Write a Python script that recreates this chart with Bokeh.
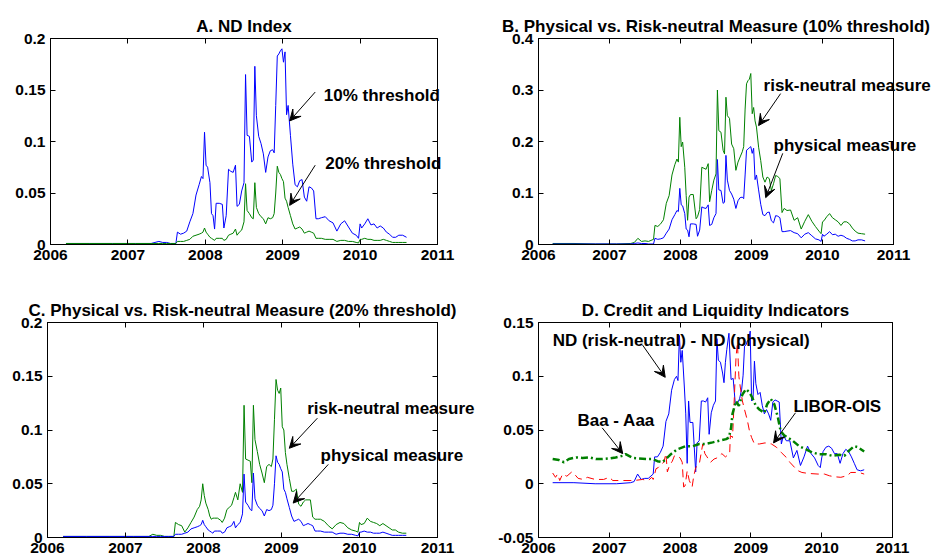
from bokeh.plotting import figure
from bokeh.models import (Range1d, FixedTicker, LinearAxis, NumeralTickFormatter,
                          Arrow, VeeHead)
from bokeh.core.properties import value
from bokeh.layouts import column, row
from bokeh.embed import file_html
from bokeh.resources import INLINE

FONT = "Liberation Sans"

# Observation dates (decimal years) shared by the four ND series
dates = [2006.20, 2006.50, 2006.80, 2007.10, 2007.30, 2007.35, 2007.40, 2007.45, 2007.50, 2007.55,
         2007.62, 2007.64, 2007.68, 2007.72, 2007.76, 2007.80, 2007.84, 2007.88, 2007.92, 2007.95,
         2007.97, 2007.99, 2008.01, 2008.03, 2008.06, 2008.08, 2008.10, 2008.12, 2008.14, 2008.18,
         2008.22, 2008.24, 2008.27, 2008.30, 2008.33, 2008.36, 2008.39, 2008.41, 2008.44, 2008.47,
         2008.50, 2008.52, 2008.54, 2008.57, 2008.60, 2008.62, 2008.64, 2008.66, 2008.69, 2008.72,
         2008.75, 2008.78, 2008.81, 2008.84, 2008.87, 2008.89, 2008.91, 2008.93, 2008.95, 2008.97,
         2008.99, 2009.01, 2009.03, 2009.05, 2009.07, 2009.10, 2009.13, 2009.16, 2009.19, 2009.22,
         2009.25, 2009.28, 2009.31, 2009.34, 2009.37, 2009.40, 2009.43, 2009.46, 2009.50, 2009.55,
         2009.60, 2009.65, 2009.70, 2009.75, 2009.80, 2009.85, 2009.90, 2009.95, 2009.98, 2010.00,
         2010.02, 2010.06, 2010.10, 2010.14, 2010.18, 2010.22, 2010.26, 2010.30, 2010.34, 2010.38,
         2010.42, 2010.46, 2010.50, 2010.55, 2010.60]

# ND index, physical measure, 10% threshold
phys10 = [0.001, 0.001, 0.001, 0.001, 0.001, 0.002, 0.003, 0.002, 0.002, 0.001,
          0.001, 0.012, 0.010, 0.011, 0.013, 0.022, 0.030, 0.048, 0.058, 0.066,
          0.064, 0.109, 0.077, 0.075, 0.060, 0.030, 0.028, 0.015, 0.040, 0.040,
          0.039, 0.016, 0.028, 0.073, 0.071, 0.070, 0.077, 0.037, 0.039, 0.052,
          0.060, 0.165, 0.106, 0.105, 0.080, 0.082, 0.173, 0.125, 0.105, 0.098,
          0.088, 0.070, 0.085, 0.091, 0.092, 0.089, 0.135, 0.183, 0.185, 0.188,
          0.190, 0.177, 0.187, 0.126, 0.135, 0.106, 0.078, 0.058, 0.056, 0.062,
          0.063, 0.046, 0.042, 0.056, 0.055, 0.052, 0.025, 0.025, 0.026, 0.027,
          0.023, 0.021, 0.013, 0.020, 0.023, 0.017, 0.011, 0.009, 0.006, 0.020,
          0.016, 0.020, 0.025, 0.019, 0.020, 0.016, 0.018, 0.016, 0.012, 0.010,
          0.007, 0.007, 0.009, 0.009, 0.007]

# ND index, physical measure, 20% threshold
phys20 = [0.001, 0.001, 0.001, 0.001, 0.001, 0.001, 0.001, 0.001, 0.001, 0.001,
          0.001, 0.003, 0.003, 0.003, 0.004, 0.005, 0.008, 0.009, 0.010, 0.011,
          0.012, 0.016, 0.012, 0.010, 0.007, 0.006, 0.005, 0.004, 0.006, 0.006,
          0.006, 0.004, 0.005, 0.009, 0.010, 0.011, 0.015, 0.009, 0.012, 0.014,
          0.022, 0.059, 0.033, 0.030, 0.026, 0.025, 0.060, 0.036, 0.030, 0.027,
          0.025, 0.020, 0.026, 0.025, 0.026, 0.030, 0.050, 0.076, 0.070, 0.068,
          0.064, 0.061, 0.045, 0.042, 0.036, 0.028, 0.020, 0.015, 0.016, 0.017,
          0.015, 0.011, 0.012, 0.013, 0.012, 0.011, 0.006, 0.006, 0.006, 0.005,
          0.005, 0.005, 0.003, 0.004, 0.004, 0.003, 0.003, 0.002, 0.0015, 0.005,
          0.005, 0.006, 0.005, 0.005, 0.004, 0.004, 0.004, 0.005, 0.004, 0.003,
          0.002, 0.002, 0.002, 0.002, 0.002]

# ND index, risk-neutral measure, 10% threshold
rn10 = [0.002, 0.002, 0.001, 0.001, 0.002, 0.004, 0.012, 0.006, 0.007, 0.006,
        0.010, 0.037, 0.035, 0.040, 0.048, 0.080, 0.095, 0.135, 0.155, 0.166,
        0.160, 0.247, 0.190, 0.199, 0.150, 0.095, 0.047, 0.092, 0.097, 0.097,
        0.050, 0.054, 0.068, 0.150, 0.148, 0.146, 0.157, 0.083, 0.105, 0.125,
        0.137, 0.300, 0.221, 0.218, 0.183, 0.176, 0.286, 0.250, 0.245, 0.195,
        0.186, 0.144, 0.160, 0.170, 0.180, 0.190, 0.263, 0.312, 0.318, 0.321,
        0.332, 0.254, 0.266, 0.240, 0.228, 0.189, 0.163, 0.131, 0.121, 0.131,
        0.128, 0.105, 0.118, 0.134, 0.132, 0.128, 0.062, 0.070, 0.066, 0.067,
        0.047, 0.052, 0.030, 0.045, 0.058, 0.045, 0.035, 0.026, 0.021, 0.044,
        0.046, 0.054, 0.060, 0.052, 0.048, 0.044, 0.037, 0.044, 0.044, 0.040,
        0.032, 0.026, 0.022, 0.021, 0.020]

# ND index, risk-neutral measure, 20% threshold
rn20 = [0.001, 0.001, 0.001, 0.001, 0.001, 0.003, 0.002, 0.002, 0.001, 0.001,
        0.001, 0.014, 0.012, 0.011, 0.005, 0.009, 0.014, 0.019, 0.026, 0.029,
        0.035, 0.050, 0.039, 0.032, 0.026, 0.020, 0.017, 0.018, 0.018, 0.018,
        0.016, 0.014, 0.018, 0.026, 0.028, 0.030, 0.037, 0.042, 0.035, 0.050,
        0.042, 0.123, 0.073, 0.072, 0.071, 0.051, 0.123, 0.091, 0.080, 0.068,
        0.060, 0.051, 0.066, 0.068, 0.066, 0.073, 0.110, 0.147, 0.137, 0.134,
        0.139, 0.103, 0.100, 0.079, 0.068, 0.055, 0.043, 0.043, 0.045, 0.031,
        0.029, 0.033, 0.035, 0.035, 0.035, 0.019, 0.017, 0.017, 0.017, 0.015,
        0.011, 0.008, 0.012, 0.014, 0.013, 0.009, 0.007, 0.006, 0.005, 0.014,
        0.012, 0.013, 0.018, 0.015, 0.014, 0.013, 0.011, 0.013, 0.011, 0.009,
        0.007, 0.007, 0.005, 0.004, 0.004]

# Risk-neutral minus physical ND (10% threshold)
nd_gap = [r - p for r, p in zip(rn10, phys10)]

# LIBOR-OIS spread (scaled)
libor_dates = [2006.20, 2006.24, 2006.27, 2006.30, 2006.34, 2006.40, 2006.47, 2006.52, 2006.56, 2006.63,
               2006.69, 2006.80, 2006.92, 2007.00, 2007.05, 2007.20, 2007.35, 2007.47, 2007.55, 2007.60,
               2007.62, 2007.66, 2007.69, 2007.73, 2007.77, 2007.80, 2007.82, 2007.85, 2007.89, 2007.92,
               2007.96, 2008.00, 2008.03, 2008.05, 2008.07, 2008.10, 2008.13, 2008.17, 2008.19, 2008.22,
               2008.27, 2008.32, 2008.35, 2008.38, 2008.43, 2008.48, 2008.52, 2008.59, 2008.64, 2008.68,
               2008.70, 2008.71, 2008.74, 2008.76, 2008.79, 2008.81, 2008.83, 2008.85, 2008.88, 2008.91,
               2008.95, 2008.98, 2009.01, 2009.05, 2009.12, 2009.20, 2009.29, 2009.36, 2009.43, 2009.50,
               2009.55, 2009.62, 2009.67, 2009.72, 2009.81, 2009.95, 2010.04, 2010.11, 2010.18, 2010.27,
               2010.36, 2010.41, 2010.48, 2010.55, 2010.60]
libor_ois = [0.010, 0.006, 0.009, 0.003, 0.009, 0.007, 0.011, 0.008, 0.005, 0.004,
             0.006, 0.004, 0.004, 0.006, 0.003, 0.003, 0.003, 0.004, 0.003, 0.006,
             0.004, 0.014, 0.015, 0.018, 0.020, 0.028, 0.011, 0.017, 0.021, 0.026,
             0.026, 0.024, 0.020, -0.003, -0.002, 0.012, 0.003, -0.003, 0.006, 0.015,
             0.018, 0.037, 0.028, 0.025, 0.020, 0.023, 0.024, 0.028, 0.025, 0.027,
             0.028, 0.045, 0.043, 0.071, 0.118, 0.131, 0.100, 0.090, 0.077, 0.069,
             0.059, 0.049, 0.043, 0.037, 0.037, 0.038, 0.037, 0.034, 0.029, 0.0245,
             0.020, 0.015, 0.012, 0.0105, 0.0096, 0.009, 0.009, 0.0074, 0.0065, 0.006,
             0.0075, 0.0105, 0.0105, 0.010, 0.009]

# Baa - Aaa credit spread (scaled)
baa_dates = [2006.20, 2006.29, 2006.36, 2006.43, 2006.53, 2006.62, 2006.72, 2006.81, 2006.90, 2007.00,
             2007.09, 2007.19, 2007.23, 2007.33, 2007.42, 2007.54, 2007.61, 2007.68, 2007.75, 2007.80,
             2007.87, 2007.96, 2008.08, 2008.18, 2008.27, 2008.36, 2008.46, 2008.55, 2008.65, 2008.69,
             2008.72, 2008.74, 2008.79, 2008.83, 2008.88, 2008.93, 2008.98, 2009.02, 2009.07, 2009.12,
             2009.19, 2009.23, 2009.28, 2009.33, 2009.38, 2009.42, 2009.47, 2009.52, 2009.59, 2009.68,
             2009.78, 2009.87, 2009.96, 2010.06, 2010.15, 2010.25, 2010.32, 2010.39, 2010.46, 2010.51,
             2010.60]
baa_aaa = [0.023, 0.022, 0.020, 0.023, 0.0245, 0.024, 0.0245, 0.023, 0.023, 0.0235,
           0.0245, 0.026, 0.0275, 0.024, 0.0235, 0.023, 0.023, 0.021, 0.020, 0.023,
           0.0275, 0.032, 0.035, 0.035, 0.037, 0.037, 0.0385, 0.040, 0.0415, 0.043,
           0.052, 0.065, 0.077, 0.0725, 0.083, 0.088, 0.085, 0.080, 0.0725, 0.069,
           0.066, 0.074, 0.079, 0.074, 0.062, 0.049, 0.045, 0.043, 0.040, 0.035,
           0.032, 0.029, 0.0275, 0.0275, 0.026, 0.027, 0.026, 0.031, 0.035, 0.034,
           0.030]

year_ticks = [2006, 2007, 2008, 2009, 2010, 2011]
ticks_a = [0, 0.05, 0.1, 0.15, 0.2]
ticks_b = [0, 0.1, 0.2, 0.3, 0.4]
ticks_c = [0, 0.05, 0.1, 0.15, 0.2]
ticks_d = [-0.05, 0, 0.05, 0.1, 0.15]

BLUE = "#0000ff"
GREEN = "#008000"
RED = "#ff0000"


def style_axis(ax, ticks, labelled=True):
    ax.ticker = FixedTicker(ticks=ticks)
    ax.major_tick_in = 5
    ax.major_tick_out = 0
    ax.minor_tick_in = 0
    ax.minor_tick_out = 0
    ax.axis_line_color = "black"
    ax.major_tick_line_color = "black"
    ax.major_label_text_font = FONT
    ax.major_label_text_font_style = "bold"
    if labelled:
        ax.major_label_text_color = "black"
        ax.major_label_text_font_size = "15.5px"
        ax.major_label_standoff = 5
    else:
        # tick marks only on the top and right edges of the box
        ax.major_label_text_color = None
        ax.major_label_text_font_size = "1px"
        ax.major_label_standoff = 0


def panel(title, y_lo, y_hi, y_ticks, width, height, left, right, top, bottom):
    p = figure(width=width, height=height, title=title,
               x_range=Range1d(2006, 2011), y_range=Range1d(y_lo, y_hi),
               output_backend="svg", toolbar_location=None,
               min_border_left=left, min_border_right=right,
               min_border_top=top, min_border_bottom=bottom)
    p.grid.visible = False
    p.outline_line_color = "black"
    p.background_fill_color = "white"
    p.border_fill_color = "white"
    p.title.align = "center"
    p.title.text_font = FONT
    p.title.text_font_size = "17px"
    p.title.text_font_style = "bold"
    p.title.text_color = "black"
    p.title.standoff = 6
    style_axis(p.below[0], year_ticks)
    style_axis(p.left[0], y_ticks)
    p.left[0].formatter = NumeralTickFormatter(format="0.[00]")
    top_axis = LinearAxis()
    style_axis(top_axis, year_ticks, labelled=False)
    p.add_layout(top_axis, "above")
    right_axis = LinearAxis()
    style_axis(right_axis, y_ticks, labelled=False)
    p.add_layout(right_axis, "right")
    return p


def note(p, x, y, text):
    # drawn at overlay level so a long caption may run past the box edge
    p.text(x=[x], y=[y], text=[text], text_font=value(FONT), text_font_size=value("17px"),
           text_font_style="bold", text_color="black", text_align="left",
           text_baseline="middle", level="overlay")


def pointer(p, x0, y0, x1, y1):
    p.add_layout(Arrow(x_start=x0, y_start=y0, x_end=x1, y_end=y1, line_width=1,
                       line_color="black",
                       end=VeeHead(size=11, line_color="black", fill_color="black",
                                   line_width=1)))


# A. ND index at both thresholds
pa = panel("A. ND Index", 0, 0.2, ticks_a, 465, 280, 50, 28, 34, 36)
pa.line(dates, phys10, line_color=BLUE, line_width=1)
pa.line(dates, phys20, line_color=GREEN, line_width=1)
note(pa, 2009.53, 0.145, "10% threshold")
pointer(pa, 2009.42, 0.148, 2009.09, 0.120)
note(pa, 2009.55, 0.079, "20% threshold")
pointer(pa, 2009.42, 0.077, 2009.09, 0.038)

# B. Physical vs risk-neutral, 10% threshold
pb = panel("B. Physical vs. Risk-neutral Measure (10% threshold)", 0, 0.4, ticks_b,
           466, 280, 73, 38, 38, 36)
pb.line(dates, rn10, line_color=GREEN, line_width=1)
pb.line(dates, phys10, line_color=BLUE, line_width=1)
note(pb, 2009.17, 0.309, "risk-neutral measure")
pointer(pb, 2009.41, 0.293, 2009.10, 0.231)
note(pb, 2009.31, 0.192, "physical measure")
pointer(pb, 2009.44, 0.177, 2009.20, 0.091)

# C. Physical vs risk-neutral, 20% threshold
pc = panel("C. Physical vs. Risk-neutral Measure (20% threshold)", 0, 0.2, ticks_c,
           475, 280, 47, 38, 42, 22)
pc.line(dates, rn20, line_color=GREEN, line_width=1)
pc.line(dates, phys20, line_color=BLUE, line_width=1)
note(pc, 2009.33, 0.120, "risk-neutral measure")
pointer(pc, 2009.46, 0.111, 2009.10, 0.083)
note(pc, 2009.50, 0.076, "physical measure")
pointer(pc, 2009.60, 0.068, 2009.15, 0.032)

# D. Credit and liquidity indicators
pd_ = panel("D. Credit and Liquidity Indicators", -0.05, 0.15, ticks_d,
            456, 280, 63, 39, 42, 23)
pd_.line(dates, nd_gap, line_color=BLUE, line_width=1)
pd_.line(libor_dates, libor_ois, line_color=RED, line_width=1, line_dash="8 5")
pd_.line(baa_dates, baa_aaa, line_color=GREEN, line_width=2.5, line_dash="7 3 2 3")
note(pd_, 2006.20, 0.133, "ND (risk-neutral) - ND (physical)")
pointer(pd_, 2007.47, 0.129, 2007.79, 0.099)
note(pd_, 2006.55, 0.059, "Baa - Aaa")
pointer(pd_, 2006.90, 0.052, 2007.19, 0.028)
note(pd_, 2009.60, 0.072, "LIBOR-OIS")
pointer(pd_, 2009.63, 0.066, 2009.32, 0.038)

layout = column(row(pa, pb, spacing=0), row(pc, pd_, spacing=0), spacing=0)

with open("out.html", "w") as f:
    f.write(file_html(layout, INLINE))
